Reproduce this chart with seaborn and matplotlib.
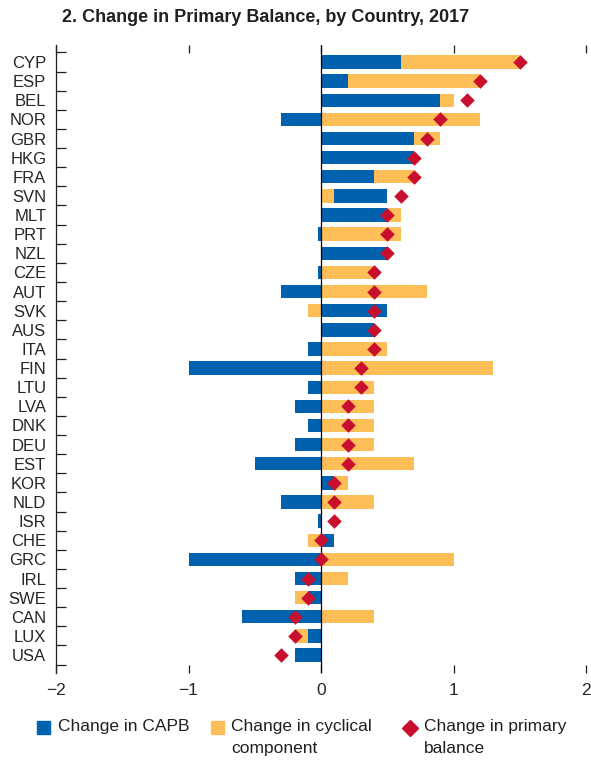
import numpy as np
import pandas as pd
import matplotlib
matplotlib.use("Agg")
import matplotlib.pyplot as plt
import seaborn as sns
from matplotlib.patches import Rectangle
from matplotlib.lines import Line2D

countries = ["CYP", "ESP", "BEL", "NOR", "GBR", "HKG", "FRA", "SVN", "MLT", "PRT",
             "NZL", "CZE", "AUT", "SVK", "AUS", "ITA", "FIN", "LTU", "LVA", "DNK",
             "DEU", "EST", "KOR", "NLD", "ISR", "CHE", "GRC", "IRL", "SWE", "CAN",
             "LUX", "USA"]
capb = [0.6, 0.2, 0.9, -0.3, 0.7, 0.7, 0.4, 0.4, 0.5, -0.02,
        0.5, -0.02, -0.3, 0.5, 0.4, -0.1, -1.0, -0.1, -0.2, -0.1,
        -0.2, -0.5, 0.1, -0.3, -0.02, 0.1, -1.0, -0.2, -0.1, -0.6,
        -0.1, -0.2]
cyclical = [0.9, 1.0, 0.1, 1.2, 0.2, 0.0, 0.3, 0.1, 0.1, 0.6,
            0.0, 0.4, 0.8, -0.1, 0.0, 0.5, 1.3, 0.4, 0.4, 0.4,
            0.4, 0.7, 0.1, 0.4, 0.0, -0.1, 1.0, 0.2, -0.1, 0.4,
            -0.1, 0.0]
primary = [1.5, 1.2, 1.1, 0.9, 0.8, 0.7, 0.7, 0.6, 0.5, 0.5,
           0.5, 0.4, 0.4, 0.4, 0.4, 0.4, 0.3, 0.3, 0.2, 0.2,
           0.2, 0.2, 0.1, 0.1, 0.1, 0.0, 0.0, -0.1, -0.1, -0.2,
           -0.2, -0.3]
cyclical_first = ["SVN"]
xticks = [-2, -1, 0, 1, 2]
xticklabels = ["\u22122", "\u22121", "0", "1", "2"]
legend_labels = ["Change in CAPB", "Change in cyclical\ncomponent", "Change in primary\nbalance"]
title = "2. Change in Primary Balance, by Country, 2017"

BLUE = "#0061AF"
YELLOW = "#FDBE57"
RED = "#C8102E"
INK = "#231F20"

sns.set_theme(style="white")
plt.rcParams["font.family"] = ["Liberation Sans", "DejaVu Sans"]
plt.rcParams["text.color"] = INK

df = pd.DataFrame({"country": countries, "capb": capb, "cyc": cyclical, "pb": primary})
df["pos"] = np.arange(len(df))
first = df["country"].isin(cyclical_first)
same = (df["capb"] * df["cyc"]) > 0
df["capb_left"] = np.where(first, df["cyc"], 0.0)
df["cyc_left"] = np.where(first, 0.0, np.where(same, df["capb"], 0.0))

W, H = 591, 764
fig = plt.figure(figsize=(W / 100, H / 100), dpi=100)
ax = fig.add_axes([56 / W, 1 - 673 / H, 530 / W, 628 / H])

h = 0.7
ax.barh(df["pos"], df["capb"], left=df["capb_left"], height=h, color=BLUE, linewidth=0, zorder=2)
ax.barh(df["pos"], df["cyc"], left=df["cyc_left"], height=h, color=YELLOW, linewidth=0, zorder=2)
ax.axvline(0, color="black", lw=0.9, zorder=3)
sns.scatterplot(data=df, x="pb", y="pos", marker="D", s=55, color=RED,
                linewidth=0, ax=ax, zorder=4, legend=False)

ax.set_xlim(-2, 2)
ax.set_ylim(len(df) - 0.5 + 0.44, -0.5 - 0.39)
ax.set_yticks(df["pos"])
ax.set_yticklabels(countries, fontsize=12)
ax.set_yticks(np.arange(-0.5, len(df), 1.0), minor=True)
ax.tick_params(axis="y", which="major", length=0, pad=7)
ax.tick_params(axis="y", which="minor", length=7, width=0.9, direction="in", left=True, color=INK)
ax.set_xticks(xticks)
ax.set_xticklabels(xticklabels, fontsize=12.5)
ax.tick_params(axis="x", which="major", direction="in", top=True, bottom=True,
               length=6, width=0.9, pad=7, color=INK)
ax.set_xlabel("")
ax.set_ylabel("")
for s in ["top", "right", "bottom"]:
    ax.spines[s].set_visible(False)
ax.spines["left"].set_color(INK)
ax.spines["left"].set_linewidth(0.9)
ax.grid(False)

fig.text(62 / W, 1 - 17 / H, title, fontsize=13, fontweight="bold", va="center", ha="left")

# legend drawn in figure pixel coordinates
def fx(px):
    return px / W

def fy(py):
    return 1 - py / H

sq = 13
fig.add_artist(Rectangle((fx(37), fy(734)), sq / W, sq / H, color=BLUE, transform=fig.transFigure))
fig.add_artist(Rectangle((fx(211), fy(734)), sq / W, sq / H, color=YELLOW, transform=fig.transFigure))
fig.add_artist(Line2D([fx(410)], [fy(727.5)], marker="D", markersize=8.5, color=RED,
                      linestyle="none", transform=fig.transFigure))
for x0, lab in zip([58, 231, 424], legend_labels):
    fig.text(fx(x0), fy(719), lab, fontsize=12.5, va="top", ha="left", linespacing=1.55)

fig.savefig("out.png", dpi=100)
